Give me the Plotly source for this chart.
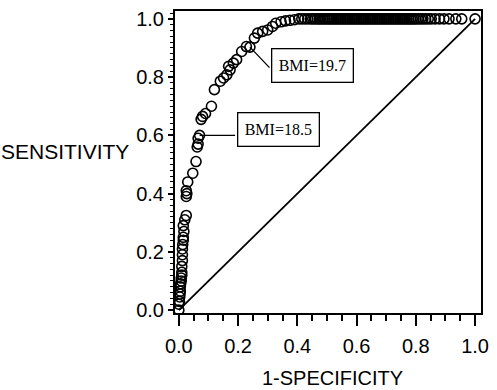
import plotly.graph_objects as go

# ROC points (1-specificity, sensitivity)
fpr = [0.000, 0.000, 0.002, 0.003, 0.004, 0.005, 0.005, 0.006, 0.008, 0.008,
       0.010, 0.010, 0.010, 0.012, 0.012, 0.012, 0.013, 0.015, 0.015, 0.017,
       0.015, 0.020, 0.025, 0.025, 0.027, 0.025, 0.030, 0.047, 0.058, 0.062,
       0.065, 0.065, 0.070, 0.075, 0.080, 0.090, 0.110, 0.120, 0.140, 0.151,
       0.162, 0.168, 0.173, 0.184, 0.195, 0.212, 0.228, 0.240, 0.255, 0.266,
       0.283, 0.300, 0.316, 0.327, 0.345, 0.360, 0.375, 0.390, 0.405, 0.415,
       0.425, 0.435, 0.445, 0.452, 0.460, 0.467, 0.474, 0.480, 0.487, 0.493,
       0.500, 0.506, 0.512, 0.518, 0.524, 0.530, 0.536, 0.542, 0.548, 0.554,
       0.560, 0.566, 0.572, 0.578, 0.584, 0.590, 0.596, 0.602, 0.608, 0.614,
       0.620, 0.626, 0.632, 0.638, 0.644, 0.650, 0.656, 0.662, 0.668, 0.674,
       0.680, 0.686, 0.692, 0.698, 0.704, 0.710, 0.716, 0.722, 0.728, 0.734,
       0.740, 0.746, 0.752, 0.758, 0.764, 0.770, 0.776, 0.782, 0.788, 0.794,
       0.800, 0.808, 0.816, 0.824, 0.833, 0.842, 0.852, 0.865, 0.880, 0.895,
       0.912, 0.935, 0.955, 1.000]
tpr = [0.000, 0.020, 0.030, 0.045, 0.055, 0.065, 0.080, 0.090, 0.100, 0.110,
       0.120, 0.130, 0.150, 0.170, 0.190, 0.210, 0.225, 0.240, 0.250, 0.270,
       0.290, 0.310, 0.325, 0.390, 0.400, 0.410, 0.440, 0.470, 0.510, 0.560,
       0.570, 0.590, 0.600, 0.655, 0.665, 0.675, 0.700, 0.757, 0.786, 0.797,
       0.808, 0.837, 0.825, 0.848, 0.860, 0.888, 0.905, 0.903, 0.934, 0.951,
       0.957, 0.962, 0.974, 0.985, 0.990, 0.993, 0.995, 0.997, 1.000, 1.000,
       1.000, 1.000, 1.000, 1.000, 1.000, 1.000, 1.000, 1.000, 1.000, 1.000,
       1.000, 1.000, 1.000, 1.000, 1.000, 1.000, 1.000, 1.000, 1.000, 1.000,
       1.000, 1.000, 1.000, 1.000, 1.000, 1.000, 1.000, 1.000, 1.000, 1.000,
       1.000, 1.000, 1.000, 1.000, 1.000, 1.000, 1.000, 1.000, 1.000, 1.000,
       1.000, 1.000, 1.000, 1.000, 1.000, 1.000, 1.000, 1.000, 1.000, 1.000,
       1.000, 1.000, 1.000, 1.000, 1.000, 1.000, 1.000, 1.000, 1.000, 1.000,
       1.000, 1.000, 1.000, 1.000, 1.000, 1.000, 1.000, 1.000, 1.000, 1.000,
       1.000, 1.000, 1.000, 1.000]

# Reference (chance) line
ref_x = [0.0, 1.0]
ref_y = [0.0, 1.0]

# Labelled cut-off points
cut_labels = ["BMI=18.5", "BMI=19.7"]
cut_fpr = [0.070, 0.240]
cut_tpr = [0.600, 0.903]

tick_vals = [0.0, 0.2, 0.4, 0.6, 0.8, 1.0]
tick_text = ["0.0", "0.2", "0.4", "0.6", "0.8", "1.0"]

SANS = "Liberation Sans, Arial, sans-serif"
SERIF = "Liberation Serif, Times New Roman, serif"

fig = go.Figure()
fig.add_trace(go.Scatter(x=ref_x, y=ref_y, mode="lines",
                         line=dict(color="black", width=1.8),
                         showlegend=False, hoverinfo="skip"))
fig.add_trace(go.Scatter(x=fpr, y=tpr, mode="markers",
                         marker=dict(symbol="circle-open", size=10,
                                     color="black", line=dict(width=1.6)),
                         showlegend=False))

# leader lines (arrow-only annotations) and boxed labels
leader_offsets = [(37, 0), (21, 22)]
box_shift = [(37, 6), (21, -18)]
for lab, x, y, (ax, ay), (bx, by) in zip(cut_labels, cut_fpr, cut_tpr,
                                         leader_offsets, box_shift):
    fig.add_annotation(x=x, y=y, xref="x", yref="y", text="",
                       showarrow=True, arrowhead=0, arrowwidth=1.3,
                       arrowcolor="black", ax=ax, ay=ay)
    fig.add_annotation(x=x, y=y, xref="x", yref="y", text=lab,
                       showarrow=False, xanchor="left", yanchor="middle",
                       xshift=bx, yshift=by, width=72, height=24,
                       font=dict(family=SERIF, size=16, color="black"),
                       bordercolor="black", borderwidth=1.3, borderpad=4,
                       bgcolor="white")

fig.add_annotation(text="SENSITIVITY", xref="paper", yref="y",
                   x=-0.143, y=0.545, xanchor="right", yanchor="middle",
                   showarrow=False,
                   font=dict(family=SANS, size=21, color="black"))
fig.add_annotation(text="1-SPECIFICITY", xref="paper", yref="paper",
                   x=0.516, y=0, yshift=-65, xanchor="center", yanchor="middle",
                   showarrow=False,
                   font=dict(family=SANS, size=20, color="black"))

axis_common = dict(showline=True, linecolor="black", linewidth=2, mirror=True,
                   showgrid=False, zeroline=False, ticks="outside",
                   tickcolor="black", tickwidth=1.5,
                   tickvals=tick_vals, ticktext=tick_text,
                   tickfont=dict(family=SANS, size=20, color="black"))

fig.update_xaxes(**axis_common, range=[-0.013, 1.02], ticklen=11,
                 ticklabelstandoff=3,
                 minor=dict(dtick=0.05, tick0=0, ticklen=6, tickwidth=1.5,
                            tickcolor="black", ticks="outside"))
fig.update_yaxes(**axis_common, range=[-0.010, 1.027], ticklen=5,
                 minor=dict(dtick=0.02, tick0=0, ticklen=3, tickwidth=1.2,
                            tickcolor="black", ticks="outside"))

fig.update_layout(width=497, height=390,
                  margin=dict(l=175, r=8, t=10, b=77),
                  paper_bgcolor="white", plot_bgcolor="white",
                  showlegend=False)

fig.write_html("out.html",
               config={"displayModeBar": False},
               post_script="document.body.style.margin='0';")
